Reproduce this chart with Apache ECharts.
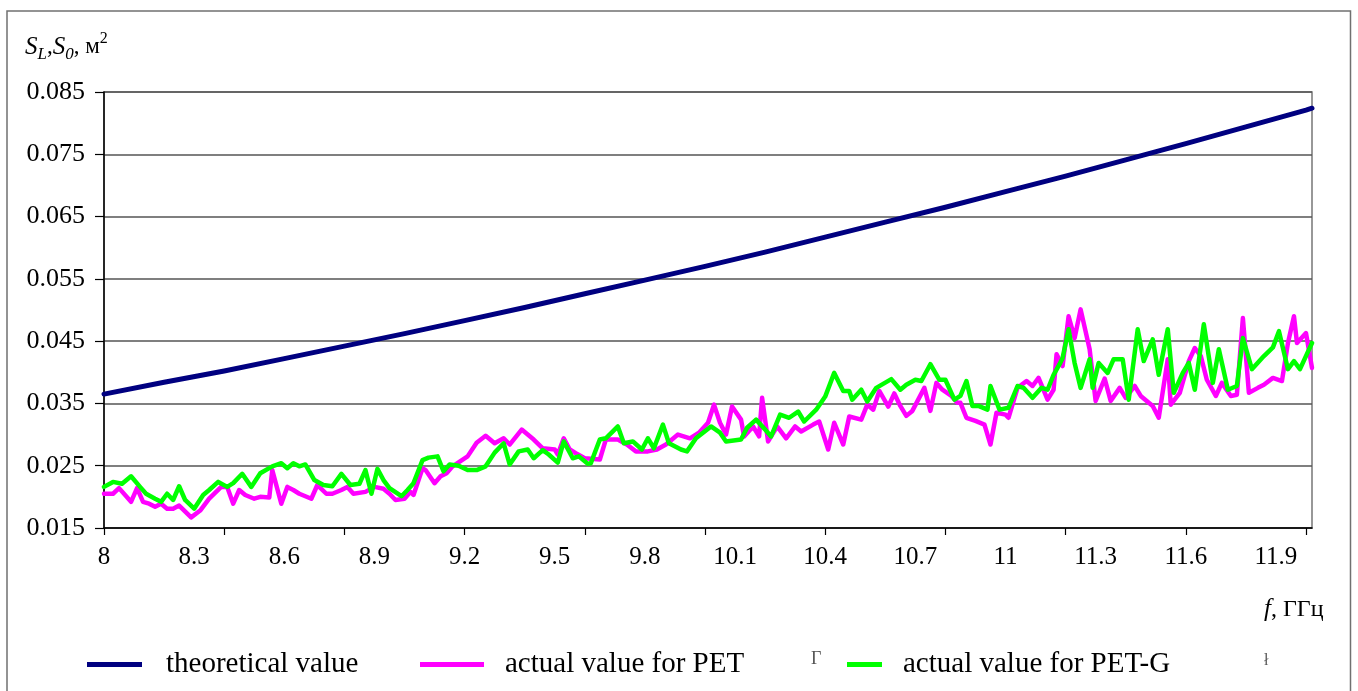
<!DOCTYPE html>
<html>
<head>
<meta charset="utf-8">
<script src="https://cdn.jsdelivr.net/npm/echarts@6/dist/echarts.min.js"></script>
<style>
  html, body { margin: 0; padding: 0; background: #fff; }
  #chart { width: 1358px; height: 691px; }
</style>
</head>
<body>
<div id="chart"></div>
<script>
// Frequency axis labels and tick marks (GHz)
const xTickLabels = [8, 8.3, 8.6, 8.9, 9.2, 9.5, 9.8, 10.1, 10.4, 10.7, 11, 11.3, 11.6, 11.9];
const xTickMarks = [8, 8.4, 8.8, 9.2, 9.6, 10, 10.4, 10.8, 11.2, 11.6, 12];
// Area axis ticks (m^2)
const yTicks = [0.015, 0.025, 0.035, 0.045, 0.055, 0.065, 0.075, 0.085];

// Theoretical value
const theoryFreq = [8.0, 8.2, 8.4, 8.6, 8.8, 9.0, 9.2, 9.4, 9.6, 9.8, 10.0, 10.2, 10.4, 10.6, 10.8, 11.0, 11.2, 11.4, 11.6, 11.8, 12.0, 12.02];
const theoryValues = [0.0365, 0.0384, 0.0402, 0.0422, 0.0442, 0.0462, 0.0483, 0.0504, 0.0526, 0.0548, 0.0570, 0.0593, 0.0617, 0.0641, 0.0665, 0.0690, 0.0715, 0.0741, 0.0767, 0.0794, 0.0821, 0.0824];

// Measured value, PET
const petFreq = [
  8.00, 8.03, 8.05, 8.09, 8.11, 8.13, 8.15, 8.17, 8.19, 8.21, 8.23, 8.25, 8.29, 8.32, 8.35, 8.39, 8.41, 8.43, 8.45, 8.47,
  8.50, 8.52, 8.55, 8.56, 8.59, 8.61, 8.63, 8.65, 8.69, 8.71, 8.74, 8.76, 8.79, 8.81, 8.83, 8.87, 8.90, 8.93, 8.95, 8.97,
  9.00, 9.02, 9.03, 9.06, 9.07, 9.10, 9.12, 9.14, 9.16, 9.21, 9.24, 9.27, 9.30, 9.33, 9.35, 9.39, 9.43, 9.46, 9.50, 9.51,
  9.53, 9.55, 9.57, 9.60, 9.65, 9.67, 9.71, 9.74, 9.77, 9.81, 9.84, 9.87, 9.91, 9.95, 9.98, 10.01, 10.03, 10.05, 10.07, 10.09,
  10.12, 10.13, 10.16, 10.18, 10.19, 10.21, 10.24, 10.27, 10.30, 10.32, 10.36, 10.38, 10.41, 10.43, 10.46, 10.48, 10.52, 10.54, 10.56, 10.58,
  10.61, 10.63, 10.65, 10.67, 10.69, 10.73, 10.75, 10.77, 10.79, 10.82, 10.84, 10.85, 10.87, 10.90, 10.93, 10.95, 10.97, 11.00, 11.01, 11.04,
  11.07, 11.09, 11.11, 11.14, 11.16, 11.17, 11.19, 11.21, 11.23, 11.25, 11.28, 11.30, 11.33, 11.35, 11.38, 11.40, 11.43, 11.45, 11.47, 11.49,
  11.51, 11.54, 11.55, 11.58, 11.61, 11.63, 11.65, 11.67, 11.70, 11.72, 11.75, 11.77, 11.79, 11.81, 11.84, 11.86, 11.89, 11.92, 11.94, 11.96,
  11.97, 12.00, 12.02
];
const petValues = [
  0.0205, 0.0205, 0.0214, 0.0192, 0.0214, 0.0192, 0.0189, 0.0184, 0.0189, 0.0181, 0.0181, 0.0186, 0.0167, 0.0178, 0.0197, 0.0216, 0.0216, 0.0189, 0.0211, 0.0203,
  0.0197, 0.0200, 0.0199, 0.0243, 0.0189, 0.0216, 0.0211, 0.0205, 0.0197, 0.0219, 0.0205, 0.0205, 0.0211, 0.0216, 0.0205, 0.0208, 0.0216, 0.0213, 0.0205, 0.0195,
  0.0197, 0.0208, 0.0203, 0.0246, 0.0243, 0.0222, 0.0233, 0.0238, 0.0249, 0.0265, 0.0287, 0.0298, 0.0286, 0.0294, 0.0284, 0.0308, 0.0292, 0.0278, 0.0276, 0.0268,
  0.0294, 0.0276, 0.0270, 0.0262, 0.0260, 0.0292, 0.0292, 0.0284, 0.0273, 0.0273, 0.0276, 0.0284, 0.0300, 0.0294, 0.0303, 0.0319, 0.0348, 0.0319, 0.0300, 0.0345,
  0.0324, 0.0297, 0.0313, 0.0297, 0.0359, 0.0289, 0.0313, 0.0294, 0.0313, 0.0305, 0.0316, 0.0321, 0.0276, 0.0319, 0.0284, 0.0329, 0.0324, 0.0348, 0.0340, 0.0370,
  0.0345, 0.0366, 0.0346, 0.0330, 0.0338, 0.0375, 0.0338, 0.0383, 0.0372, 0.0362, 0.0351, 0.0351, 0.0327, 0.0322, 0.0316, 0.0284, 0.0335, 0.0332, 0.0327, 0.0375,
  0.0386, 0.0378, 0.0391, 0.0356, 0.0372, 0.0429, 0.0410, 0.0490, 0.0455, 0.0501, 0.0437, 0.0354, 0.0390, 0.0354, 0.0375, 0.0359, 0.0378, 0.0362, 0.0354, 0.0346,
  0.0327, 0.0421, 0.0348, 0.0367, 0.0418, 0.0439, 0.0426, 0.0388, 0.0362, 0.0383, 0.0362, 0.0364, 0.0487, 0.0367, 0.0375, 0.0380, 0.0391, 0.0386, 0.0447, 0.0490,
  0.0447, 0.0463, 0.0407
];

// Measured value, PET-G
const petgFreq = [
  8.00, 8.03, 8.06, 8.09, 8.12, 8.14, 8.17, 8.19, 8.21, 8.23, 8.25, 8.27, 8.30, 8.33, 8.35, 8.38, 8.41, 8.43, 8.46, 8.49,
  8.52, 8.56, 8.59, 8.61, 8.63, 8.65, 8.67, 8.70, 8.73, 8.76, 8.79, 8.82, 8.85, 8.87, 8.89, 8.91, 8.93, 8.95, 8.99, 9.01,
  9.03, 9.06, 9.08, 9.11, 9.13, 9.15, 9.18, 9.21, 9.24, 9.27, 9.30, 9.33, 9.35, 9.38, 9.41, 9.43, 9.46, 9.48, 9.51, 9.53,
  9.56, 9.58, 9.61, 9.62, 9.65, 9.67, 9.71, 9.73, 9.76, 9.79, 9.81, 9.83, 9.86, 9.88, 9.92, 9.94, 9.97, 10.02, 10.05, 10.07,
  10.12, 10.14, 10.17, 10.20, 10.22, 10.25, 10.28, 10.31, 10.33, 10.37, 10.40, 10.43, 10.46, 10.48, 10.49, 10.52, 10.54, 10.57, 10.62, 10.65,
  10.67, 10.70, 10.72, 10.75, 10.78, 10.80, 10.83, 10.85, 10.87, 10.89, 10.91, 10.94, 10.95, 10.98, 11.01, 11.04, 11.06, 11.09, 11.12, 11.14,
  11.16, 11.18, 11.19, 11.21, 11.23, 11.25, 11.28, 11.29, 11.31, 11.34, 11.36, 11.39, 11.41, 11.44, 11.46, 11.49, 11.51, 11.54, 11.56, 11.59,
  11.61, 11.63, 11.66, 11.69, 11.71, 11.74, 11.77, 11.79, 11.82, 11.86, 11.89, 11.91, 11.94, 11.96, 11.98, 12.02
];
const petgValues = [
  0.0216, 0.0224, 0.0221, 0.0233, 0.0216, 0.0205, 0.0197, 0.0192, 0.0205, 0.0195, 0.0217, 0.0195, 0.0181, 0.0203, 0.0211, 0.0224, 0.0216, 0.0222, 0.0237, 0.0216,
  0.0238, 0.0249, 0.0254, 0.0246, 0.0254, 0.0249, 0.0252, 0.0227, 0.0219, 0.0217, 0.0237, 0.0219, 0.0221, 0.0243, 0.0205, 0.0245, 0.0227, 0.0214, 0.0201, 0.0211,
  0.0222, 0.0259, 0.0263, 0.0265, 0.0241, 0.0252, 0.0250, 0.0243, 0.0243, 0.0249, 0.0271, 0.0286, 0.0252, 0.0273, 0.0276, 0.0262, 0.0275, 0.0268, 0.0255, 0.0289,
  0.0262, 0.0265, 0.0253, 0.0254, 0.0292, 0.0294, 0.0313, 0.0286, 0.0289, 0.0276, 0.0294, 0.0278, 0.0316, 0.0286, 0.0276, 0.0273, 0.0294, 0.0313, 0.0303, 0.0289,
  0.0292, 0.0311, 0.0324, 0.0308, 0.0297, 0.0332, 0.0327, 0.0337, 0.0321, 0.0340, 0.0361, 0.0399, 0.0370, 0.0370, 0.0356, 0.0372, 0.0353, 0.0375, 0.0389, 0.0372,
  0.0380, 0.0388, 0.0386, 0.0413, 0.0388, 0.0388, 0.0356, 0.0362, 0.0386, 0.0346, 0.0346, 0.0340, 0.0378, 0.0340, 0.0343, 0.0378, 0.0375, 0.0359, 0.0375, 0.0372,
  0.0396, 0.0413, 0.0423, 0.0469, 0.0415, 0.0375, 0.0421, 0.0375, 0.0415, 0.0399, 0.0421, 0.0421, 0.0356, 0.0469, 0.0418, 0.0453, 0.0396, 0.0469, 0.0367, 0.0399,
  0.0415, 0.0372, 0.0477, 0.0383, 0.0437, 0.0372, 0.0378, 0.0455, 0.0405, 0.0426, 0.0440, 0.0466, 0.0405, 0.0418, 0.0405, 0.0447
];

const zip = (xs, ys) => xs.map((x, i) => [x, ys[i]]);
const SERIF = 'Liberation Serif';
const fmt = v => String(parseFloat(Number(v).toFixed(3)));

const chart = echarts.init(document.getElementById('chart'), null, { renderer: 'canvas' });

const legendText = (pad) => ({ fontFamily: SERIF, fontSize: 29, color: '#000', padding: [0, 0, 0, pad] });

chart.setOption({
  animation: false,
  backgroundColor: '#fff',
  title: [
    {
      text: '{i|S}{sub|L}{n|,}{i|S}{sub|0}{n|, м}{sup|2}',
      left: 20, top: 26,
      textStyle: {
        fontWeight: 'normal',
        rich: {
          i:   { fontFamily: SERIF, fontStyle: 'italic', fontWeight: 'normal', fontSize: 25, color: '#000', lineHeight: 32, verticalAlign: 'middle' },
          sub: { fontFamily: SERIF, fontStyle: 'italic', fontWeight: 'normal', fontSize: 17, color: '#000', lineHeight: 32, verticalAlign: 'bottom' },
          n:   { fontFamily: SERIF, fontWeight: 'normal', fontSize: 23, color: '#000', lineHeight: 32, verticalAlign: 'middle' },
          sup: { fontFamily: SERIF, fontWeight: 'normal', fontSize: 16, color: '#000', lineHeight: 32, verticalAlign: 'top' }
        }
      }
    },
    {
      text: '{i|f}{n|, ГГц}',
      left: 1259, top: 592,
      textStyle: {
        fontWeight: 'normal',
        rich: {
          i: { fontFamily: SERIF, fontStyle: 'italic', fontWeight: 'normal', fontSize: 25, color: '#000' },
          n: { fontFamily: SERIF, fontWeight: 'normal', fontSize: 24, color: '#000' }
        }
      }
    }
  ],
  legend: [
    { data: ['theoretical value'], left: 87, top: 650, padding: 0, icon: 'rect', itemWidth: 55, itemHeight: 5, selectedMode: false, textStyle: legendText(19) },
    { data: ['actual value for PET'], left: 420, top: 650, padding: 0, icon: 'rect', itemWidth: 64, itemHeight: 5, selectedMode: false, textStyle: legendText(16) },
    { data: ['actual value for PET-G'], left: 847, top: 650, padding: 0, icon: 'rect', itemWidth: 35, itemHeight: 5, selectedMode: false, textStyle: legendText(16) }
  ],
  grid: {
    left: 104, right: 46, top: 92, bottom: 163,
    show: true, borderColor: '#777', borderWidth: 1.5, backgroundColor: 'transparent'
  },
  xAxis: {
    type: 'value',
    min: 8, max: 12.02,
    axisLine: { show: true, onZero: false, lineStyle: { color: '#000', width: 1.5 } },
    axisTick: { show: true, customValues: xTickMarks, length: 7, lineStyle: { color: '#000', width: 1.2 } },
    axisLabel: { customValues: xTickLabels, formatter: fmt, fontFamily: SERIF, fontSize: 25, color: '#000', margin: 17 },
    splitLine: { show: false }
  },
  yAxis: {
    type: 'value',
    min: 0.015, max: 0.085,
    axisLine: { show: true, onZero: false, lineStyle: { color: '#000', width: 1.5 } },
    axisTick: { show: true, customValues: yTicks, length: 9, lineStyle: { color: '#000', width: 1.2 } },
    axisLabel: { customValues: yTicks, formatter: fmt, fontFamily: SERIF, fontSize: 26, color: '#000', margin: 19 },
    splitLine: { show: true, lineStyle: { color: '#555', width: 1.5 } }
  },
  series: [
    {
      name: 'theoretical value', type: 'line', data: zip(theoryFreq, theoryValues),
      showSymbol: false, symbol: 'none', smooth: false,
      color: '#000080', lineStyle: { color: '#000080', width: 5, join: 'round', cap: 'round' }
    },
    {
      name: 'actual value for PET', type: 'line', data: zip(petFreq, petValues),
      showSymbol: false, symbol: 'none',
      color: '#FF00FF', lineStyle: { color: '#FF00FF', width: 4.5, join: 'round', cap: 'round' }
    },
    {
      name: 'actual value for PET-G', type: 'line', data: zip(petgFreq, petgValues),
      showSymbol: false, symbol: 'none',
      color: '#00FF00', lineStyle: { color: '#00FF00', width: 4.5, join: 'round', cap: 'round' }
    }
  ],
  graphic: [
    { type: 'rect', z: -10, silent: true, shape: { x: 7, y: 11, width: 1343.5, height: 700 }, style: { fill: null, stroke: '#707070', lineWidth: 1.5 } },
    { type: 'text', left: 811, top: 650, silent: true, style: { text: 'Γ', fontFamily: SERIF, fontSize: 18, fill: '#555' } },
    { type: 'text', left: 1264, top: 653, silent: true, style: { text: 'ł', fontFamily: SERIF, fontSize: 16, fill: '#555' } }
  ]
});
</script>
</body>
</html>
